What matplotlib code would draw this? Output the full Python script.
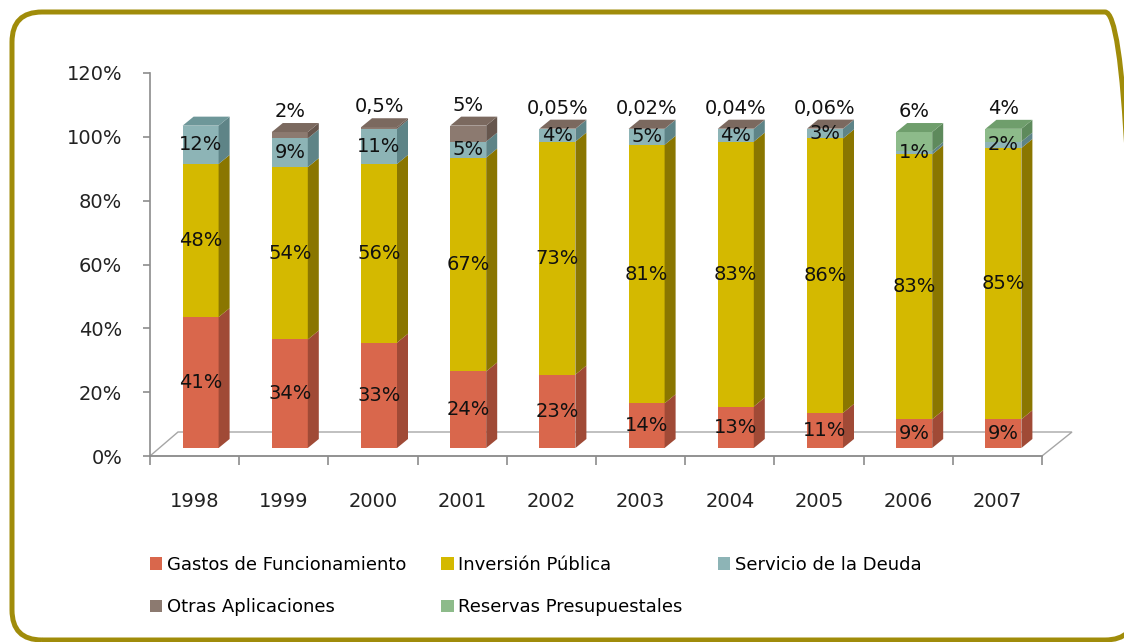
import matplotlib.pyplot as plt
import matplotlib.ticker as mtick
from matplotlib.patches import Polygon, FancyBboxPatch, Patch

years = ['1998', '1999', '2000', '2001', '2002', '2003', '2004', '2005', '2006', '2007']
gastos = [41, 34, 33, 24, 23, 14, 13, 11, 9, 9]
inversion = [48, 54, 56, 67, 73, 81, 83, 86, 83, 85]
servicio = [12, 9, 11, 5, 4, 5, 4, 3, 1, 2]
otras = [0, 2, 0.5, 5, 0.05, 0.02, 0.04, 0.06, 0, 0]
reservas = [0, 0, 0, 0, 0, 0, 0, 0, 6, 4]

names = ['Gastos de Funcionamiento', 'Inversión Pública', 'Servicio de la Deuda',
         'Otras Aplicaciones', 'Reservas Presupuestales']
series = [gastos, inversion, servicio, otras, reservas]
# front, side, top shades for each series
front = ['#D9674C', '#D4B900', '#8DB4B6', '#8C7A70', '#8DBB8A']
side = ['#A04A36', '#8A7600', '#5E8487', '#66564D', '#5E8A5C']
top = ['#BF5A42', '#AE9800', '#6E9799', '#7B695F', '#6F9E6C']


def pct_text(v):
    return ('%g' % v).replace('.', ',') + '%'


W, H = 1124, 642
fig = plt.figure(figsize=(W / 100, H / 100), dpi=100)
fig.patch.set_facecolor('white')

ax_l, ax_b, ax_w, ax_h = 150, 456, 892, 383   # pixel box of the plotting area
ax = fig.add_axes([ax_l / W, (H - ax_b) / H, ax_w / W, ax_h / H])
ax.set_xlim(0, len(years))
ax.set_ylim(0, 1.2)

# pixel -> data factors
sx = len(years) / ax_w
sy = 1.2 / ax_h

# floor of the 3d box
floor = Polygon([(0, 0), (len(years), 0), (len(years) + 30 * sx, 24 * sy), (28 * sx, 24 * sy)],
                closed=True, facecolor='white', edgecolor='#A6A6A6', lw=1.0,
                zorder=1, clip_on=False)
ax.add_patch(floor)

bw = 36 * sx
dx, dy = 11 * sx, 9 * sy
for i in range(len(years)):
    xl = i + 0.5 + 6 * sx - bw / 2
    xr = xl + bw
    base = 8 * sy
    last = None
    for k, vals in enumerate(series):
        v = vals[i] / 100
        if v <= 0:
            continue
        ax.bar(xl, v, width=bw, bottom=base, align='edge', color=front[k], zorder=3)
        ax.add_patch(Polygon([(xr, base), (xr + dx, base + dy), (xr + dx, base + v + dy), (xr, base + v)],
                             closed=True, facecolor=side[k], edgecolor='none', zorder=3))
        if k < 3:
            ax.text((xl + xr) / 2, base + v / 2, pct_text(vals[i]), ha='center', va='center',
                    fontsize=14, color='#111111', zorder=5)
        else:
            lab = pct_text(vals[i])
        base += v
        last = k
    ax.add_patch(Polygon([(xl, base), (xr, base), (xr + dx, base + dy), (xl + dx, base + dy)],
                         closed=True, facecolor=top[last], edgecolor='none', zorder=3))
    if last >= 3:
        ax.text((xl + xr) / 2, base + dy + 2 * sy, lab, ha='center', va='bottom',
                fontsize=14, color='#111111', zorder=5)

# axes styling
for s in ['top', 'right']:
    ax.spines[s].set_visible(False)
for s in ['left', 'bottom']:
    ax.spines[s].set_color('#8C8C8C')
    ax.spines[s].set_linewidth(1.2)

ax.yaxis.set_major_locator(mtick.MultipleLocator(0.2))
ax.yaxis.set_major_formatter(mtick.PercentFormatter(xmax=1, decimals=0))
ax.tick_params(axis='y', direction='out', length=5, width=1.2, color='#8C8C8C',
               labelsize=14, labelcolor='#222222', pad=15)

ax.set_xticks(range(len(years) + 1))
ax.set_xticklabels([])
ax.set_xticks([i + 0.5 for i in range(len(years))], minor=True)
ax.set_xticklabels(years, minor=True)
ax.tick_params(axis='x', which='major', direction='out', length=6.5, width=1.2, color='#8C8C8C')
ax.tick_params(axis='x', which='minor', length=0, labelsize=14, labelcolor='#222222', pad=26)

# legend, rows: Gastos / Inversión / Servicio, then Otras / Reservas
order = [0, 3, 1, 4, 2]
handles = [Patch(facecolor=front[k], edgecolor='none') for k in order]
fig.legend(handles, [names[k] for k in order], loc='upper left',
           bbox_to_anchor=(150 / W, 1 - 556 / H), ncol=3, frameon=False,
           fontsize=13, handlelength=0.68, handleheight=0.68, handletextpad=0.25,
           columnspacing=1.95, labelspacing=1.35, borderpad=0, borderaxespad=0)

# rounded frame around the chart, running off the right edge
frame = FancyBboxPatch((0.12, 0.02), 11.23, 6.28, boxstyle='round,pad=0,rounding_size=0.3',
                       transform=fig.dpi_scale_trans, fill=False, ec='#A08C0A', lw=3.6)
fig.add_artist(frame)

fig.savefig('out.png', dpi=100)
